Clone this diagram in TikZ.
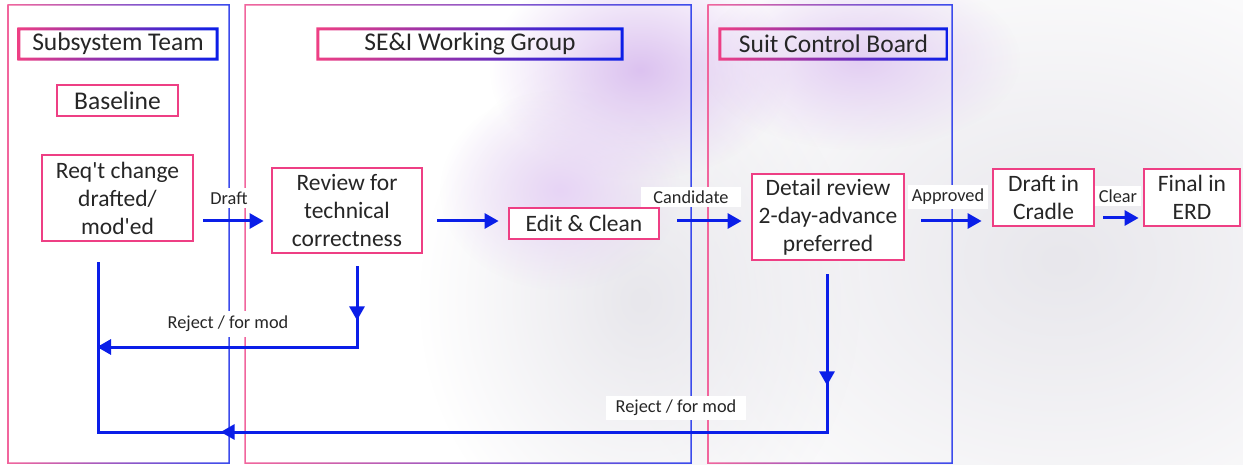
\documentclass[tikz,border=0pt]{standalone}
\usepackage{fontspec}
\setmainfont{Carlito}
\usetikzlibrary{arrows.meta,decorations.markings,fadings}
\definecolor{pinkc}{HTML}{EE3F84}
\definecolor{bluec}{HTML}{0A1EE8}
\definecolor{txt}{HTML}{262626}
\definecolor{lav}{HTML}{DCC2F0}
\definecolor{smoke}{HTML}{E8E7EC}
\tikzfading[name=softfade, inner color=transparent!0, outer color=transparent!100]
\begin{document}
\begin{tikzpicture}[x=1pt,y=-1pt,
  boxnode/.style={draw=pinkc, line width=2.8pt, fill=white, align=center, inner sep=0pt,
    text=txt, font=\fontsize{23.5}{28}\selectfont},
  hdr/.style={inner sep=0pt, text=txt, font=\fontsize{25.5}{30}\selectfont},
  lbl/.style={fill=white, text=txt, font=\fontsize{18.3}{20}\selectfont, inner xsep=4pt, inner ysep=4pt},
  flow/.style={draw=bluec, line width=3pt, -{Triangle[length=14pt,width=15pt]}},
  link/.style={draw=bluec, line width=3pt},
  midarrow/.style={postaction={decorate, decoration={markings,
    mark=at position #1 with {\arrow{Triangle[length=14pt,width=15pt]}}}}}
]
\useasboundingbox (0,0) rectangle (1243,465);
\fill[white] (0,0) rectangle (1243,465);
% smoke background
\fill[smoke, path fading=softfade] (1060,260) ellipse (460 and 360);
\fill[smoke, path fading=softfade] (640,300) ellipse (220 and 260);
\fill[lav, path fading=softfade] (640,70) ellipse (150 and 110);
\fill[lav!80, path fading=softfade] (860,60) ellipse (160 and 90);
\fill[lav!70, path fading=softfade] (560,190) ellipse (120 and 100);
% lanes
\shade[left color=pinkc!80, right color=bluec!80, even odd rule]
  (7.25,4.25) rectangle (229.75,463.75) (8.75,5.75) rectangle (228.25,462.25);
\shade[left color=pinkc!80, right color=bluec!80, even odd rule]
  (244.25,4.25) rectangle (691.75,463.75) (245.75,5.75) rectangle (690.25,462.25);
\shade[left color=pinkc!80, right color=bluec!80, even odd rule]
  (707.25,4.25) rectangle (952.75,463.75) (708.75,5.75) rectangle (951.25,462.25);
% headers
\node[hdr, minimum width=198pt, minimum height=30pt] (h1) at (118,44) {Subsystem Team};
\node[hdr, minimum width=304pt, minimum height=30pt] (h2) at (470,44) {SE\&I Working Group};
\node[hdr, minimum width=227pt, minimum height=30pt] (h3) at (833.5,44) {Suit Control Board};
\foreach \h in {h1,h2,h3}{
  \shade[left color=pinkc, right color=bluec, even odd rule]
    ([shift={(-1.5,-1.5)}]\h.north west) rectangle ([shift={(1.5,1.5)}]\h.south east)
    ([shift={(1.5,1.5)}]\h.north west) rectangle ([shift={(-1.5,-1.5)}]\h.south east);
}
\node[boxnode, minimum width=121pt, minimum height=31pt, font=\fontsize{25.5}{30}\selectfont] (base) at (117.5,100.5) {Baseline};
% process boxes
\node[boxnode, minimum width=151pt, minimum height=86pt] (req) at (117.5,198) {Req\textquotesingle t change\\drafted/\\mod\textquotesingle ed};
\node[boxnode, minimum width=150pt, minimum height=85pt] (rev) at (347,210.5) {Review for\\technical\\correctness};
\node[boxnode, minimum width=150pt, minimum height=31pt] (edit) at (584,223.5) {Edit \& Clean};
\node[boxnode, minimum width=152pt, minimum height=86pt] (det) at (828,217) {Detail review\\2-day-advance\\preferred};
\node[boxnode, minimum width=101pt, minimum height=57pt] (cra) at (1043.5,197.5) {Draft in\\Cradle};
\node[boxnode, minimum width=96pt, minimum height=57pt] (erd) at (1192,197.5) {Final in\\ERD};
% main flow
\coordinate (ya) at (0,221);
\coordinate (yb) at (0,218);
\draw[flow, shorten <=9pt, shorten >=7pt] (req.east |- ya) -- (rev.west |- ya);
\draw[flow, shorten <=14pt, shorten >=9pt] (rev.east |- ya) -- (edit.west |- ya);
\draw[flow, shorten <=17pt, shorten >=9pt] (edit.east |- ya) -- (det.west |- ya);
\draw[flow, shorten <=16pt, shorten >=10pt] (det.east |- ya) -- (cra.west |- ya);
\draw[flow, shorten <=8pt, shorten >=4pt] (cra.east |- yb) -- (erd.west |- yb);
\node[lbl] (ldraft) at (229,198) {Draft};
\node[lbl, inner xsep=12pt] (lcand) at (691,197) {Candidate};
\node[lbl] (lappr) at (948,197) {Approved};
\node[lbl] (lclear) at (1118,196) {Clear};
% reject loops
\coordinate (r1s) at ([shift={(10,12)}]rev.south);
\coordinate (r1y) at (0,347);
\coordinate (reqx) at (98,0);
\draw[flow, midarrow=54pt, shorten >=-1pt] (r1s) -- (r1s |- r1y) -- (reqx |- r1y);
\coordinate (r2s) at ([shift={(-1,13)}]det.south);
\coordinate (r2y) at (0,432);
\coordinate (reqb) at (98,262);
\draw[link, midarrow=111pt, midarrow=764pt] (r2s) -- (r2s |- r2y) -- (reqx |- r2y) -- (reqb);
\node[lbl, inner ysep=5pt] (lrej1) at (228,324) {Reject / for mod};
\node[lbl, inner xsep=10pt] (lrej2) at (676,408) {Reject / for mod};
\end{tikzpicture}
\end{document}
